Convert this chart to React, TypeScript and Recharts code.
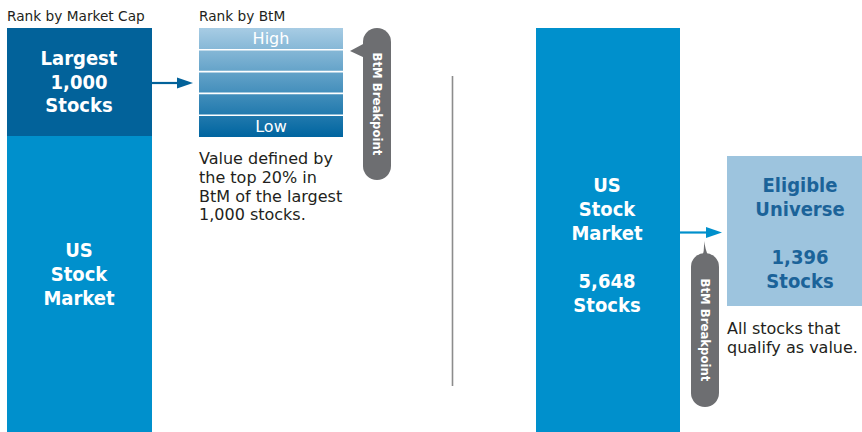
import React from 'react';
import { ComposedChart, XAxis, YAxis, Scatter, ReferenceArea, ReferenceLine, ReferenceDot } from 'recharts';

// text and counts shown in the diagram
const columnTitles = ['Rank by Market Cap', 'Rank by BtM'];
const largestLabel = ['Largest', '1,000', 'Stocks'];
const marketLabel = ['US', 'Stock', 'Market'];
const marketCount = ['5,648', 'Stocks'];
const btmBands = ['High', '', '', '', 'Low'];
const valueNote = ['Value defined by', 'the top 20% in', 'BtM of the largest', '1,000 stocks.'];
const eligibleLabel = ['Eligible', 'Universe'];
const eligibleCount = ['1,396', 'Stocks'];
const eligibleNote = ['All stocks that', 'qualify as value.'];
const breakpointLabel = 'BtM Breakpoint';

const W = 862;
const H = 432;
const FONT = '"DejaVu Sans", sans-serif';
const BOLD_FONT = '"DejaVu Sans Condensed", "DejaVu Sans", sans-serif';

// corners of the drawing area, so the scales span the whole page
const frame = [
    { x: 0, y: 0 },
    { x: W, y: H },
];

const DARK = '#02629a';
const MID = '#0090cc';
const LIGHT = '#9dc4de';
const GREY = '#6d6e71';
const INK = '#231f20';

type TextProps = {
    lines: string[];
    step: number;
    size: number;
    color: string;
    bold?: boolean;
    anchor?: 'start' | 'middle';
};

const textShape = ({ lines, step, size, color, bold, anchor = 'middle' }: TextProps) => (p: any) => (
    <text
        x={p.cx}
        y={p.cy}
        fill={color}
        fontSize={size}
        fontWeight={bold ? 700 : 400}
        fontFamily={bold ? BOLD_FONT : FONT}
        fontStretch={bold ? 'condensed' : 'normal'}
        textAnchor={anchor}
    >
        {lines.map((l, i) => (
            <tspan key={i} x={p.cx} dy={i === 0 ? 0 : step}>
                {l}
            </tspan>
        ))}
    </text>
);

// grey pill with a small pointer, text running top to bottom
const pillShape = (pointer: 'left' | 'top') => (p: any) => {
    const { x, y, width, height } = p;
    const cx = x + width / 2;
    const cy = y + height / 2;
    const tri =
        pointer === 'left'
            ? `M${x + 2},${y + 15} L${x - 13},${y + 23} L${x + 2},${y + 30} Z`
            : `M${x + 5},${y + 12} Q${cx},${y + 6} ${cx - 1},${y - 12} Q${cx + 2},${y + 6} ${x + width - 5},${y + 12} Z`;
    return (
        <g>
            <path d={tri} fill={GREY} />
            <rect x={x} y={y} width={width} height={height} rx={width / 2} fill={GREY} />
            <text
                x={cx}
                y={cy}
                transform={`rotate(90, ${cx}, ${cy})`}
                textAnchor="middle"
                dominantBaseline="central"
                fill="#fff"
                fontSize={13}
                fontWeight={700}
                fontFamily={BOLD_FONT}
                fontStretch="condensed"
            >
                {breakpointLabel}
            </text>
        </g>
    );
};

const gradientShape = (p: any) => (
    <g>
        <defs>
            <linearGradient id="btmGrad" x1="0" y1="0" x2="0" y2="1">
                <stop offset="0%" stopColor="#a7cce4" />
                <stop offset="100%" stopColor="#0065a0" />
            </linearGradient>
        </defs>
        <rect x={p.x} y={p.y} width={p.width} height={p.height} fill="url(#btmGrad)" />
    </g>
);

const arrowShape = (color: string) => (p: any) => {
    const { x1, y1, x2 } = p;
    return (
        <g>
            <line x1={x1} y1={y1} x2={x2 - 10} y2={y1} stroke={color} strokeWidth={2.2} />
            <path d={`M${x2 - 16},${y1 - 5.5} L${x2},${y1} L${x2 - 16},${y1 + 5.5} Z`} fill={color} />
        </g>
    );
};

const btmTop = 28;
const btmBottom = 137;
const bandH = (btmBottom - btmTop) / btmBands.length;

export default function App() {
    return (
        <div style={{ position: 'absolute', left: 0, top: 0, width: W, height: H, background: '#fff' }}>
            <ComposedChart width={W} height={H} data={frame} margin={{ top: 0, right: 0, bottom: 0, left: 0 }}>
                <XAxis type="number" dataKey="x" domain={[0, W]} allowDataOverflow hide />
                <YAxis type="number" dataKey="y" domain={[0, H]} allowDataOverflow reversed hide />
                <Scatter data={frame} dataKey="y" fill="none" isAnimationActive={false} />

                {/* left: market cap column */}
                <ReferenceArea x1={7} x2={152} y1={28} y2={H} fill={MID} fillOpacity={1} stroke="none" ifOverflow="visible" />
                <ReferenceArea x1={7} x2={152} y1={28} y2={136} fill={DARK} fillOpacity={1} stroke="none" ifOverflow="visible" />

                {/* BtM ranking stack */}
                <ReferenceArea x1={199} x2={343} y1={btmTop} y2={btmBottom} shape={gradientShape} ifOverflow="visible" />
                {btmBands.slice(1).map((_, i) => (
                    <ReferenceLine
                        key={i}
                        segment={[
                            { x: 199, y: btmTop + bandH * (i + 1) },
                            { x: 343, y: btmTop + bandH * (i + 1) },
                        ]}
                        stroke="#fff"
                        strokeWidth={1.6}
                        ifOverflow="visible"
                    />
                ))}
                {btmBands.map((b, i) =>
                    b ? (
                        <ReferenceDot
                            key={b}
                            x={271}
                            y={btmTop + bandH * (i + 0.5) + 5.5}
                            r={0}
                            ifOverflow="visible"
                            shape={textShape({ lines: [b], step: 0, size: 16, color: '#fff' })}
                        />
                    ) : null
                )}

                <ReferenceArea x1={363} x2={391} y1={28} y2={180} shape={pillShape('left')} ifOverflow="visible" />
                <ReferenceLine segment={[{ x: 151, y: 83 }, { x: 193, y: 83 }]} shape={arrowShape(DARK)} ifOverflow="visible" />

                {/* divider */}
                <ReferenceLine segment={[{ x: 452.5, y: 76 }, { x: 452.5, y: 386 }]} stroke="#8c8c8c" strokeWidth={1.6} ifOverflow="visible" />

                {/* right side */}
                <ReferenceArea x1={536} x2={680} y1={28} y2={H} fill={MID} fillOpacity={1} stroke="none" ifOverflow="visible" />
                <ReferenceArea x1={727} x2={W} y1={156} y2={306} fill={LIGHT} fillOpacity={1} stroke="none" ifOverflow="visible" />
                <ReferenceLine segment={[{ x: 680, y: 232.5 }, { x: 722, y: 232.5 }]} shape={arrowShape(MID)} ifOverflow="visible" />
                <ReferenceArea x1={691} x2={719} y1={253} y2={407} shape={pillShape('top')} ifOverflow="visible" />

                {/* texts */}
                <ReferenceDot x={7} y={20.5} r={0} ifOverflow="visible" shape={textShape({ lines: [columnTitles[0]], step: 0, size: 13.7, color: INK, anchor: 'start' })} />
                <ReferenceDot x={199} y={20.5} r={0} ifOverflow="visible" shape={textShape({ lines: [columnTitles[1]], step: 0, size: 13.7, color: INK, anchor: 'start' })} />
                <ReferenceDot x={79} y={65} r={0} ifOverflow="visible" shape={textShape({ lines: largestLabel, step: 23.5, size: 20, color: '#fff', bold: true })} />
                <ReferenceDot x={79} y={257} r={0} ifOverflow="visible" shape={textShape({ lines: marketLabel, step: 24, size: 20, color: '#fff', bold: true })} />
                <ReferenceDot x={199} y={164} r={0} ifOverflow="visible" shape={textShape({ lines: valueNote, step: 18.8, size: 16, color: INK, anchor: 'start' })} />
                <ReferenceDot x={607} y={192} r={0} ifOverflow="visible" shape={textShape({ lines: marketLabel, step: 24, size: 20, color: '#fff', bold: true })} />
                <ReferenceDot x={607} y={288} r={0} ifOverflow="visible" shape={textShape({ lines: marketCount, step: 24, size: 20, color: '#fff', bold: true })} />
                <ReferenceDot x={800} y={192} r={0} ifOverflow="visible" shape={textShape({ lines: eligibleLabel, step: 23.5, size: 20, color: '#1b6399', bold: true })} />
                <ReferenceDot x={800} y={264} r={0} ifOverflow="visible" shape={textShape({ lines: eligibleCount, step: 23.5, size: 20, color: '#1b6399', bold: true })} />
                <ReferenceDot x={727} y={334} r={0} ifOverflow="visible" shape={textShape({ lines: eligibleNote, step: 19, size: 16, color: INK, anchor: 'start' })} />
            </ComposedChart>
        </div>
    );
}
